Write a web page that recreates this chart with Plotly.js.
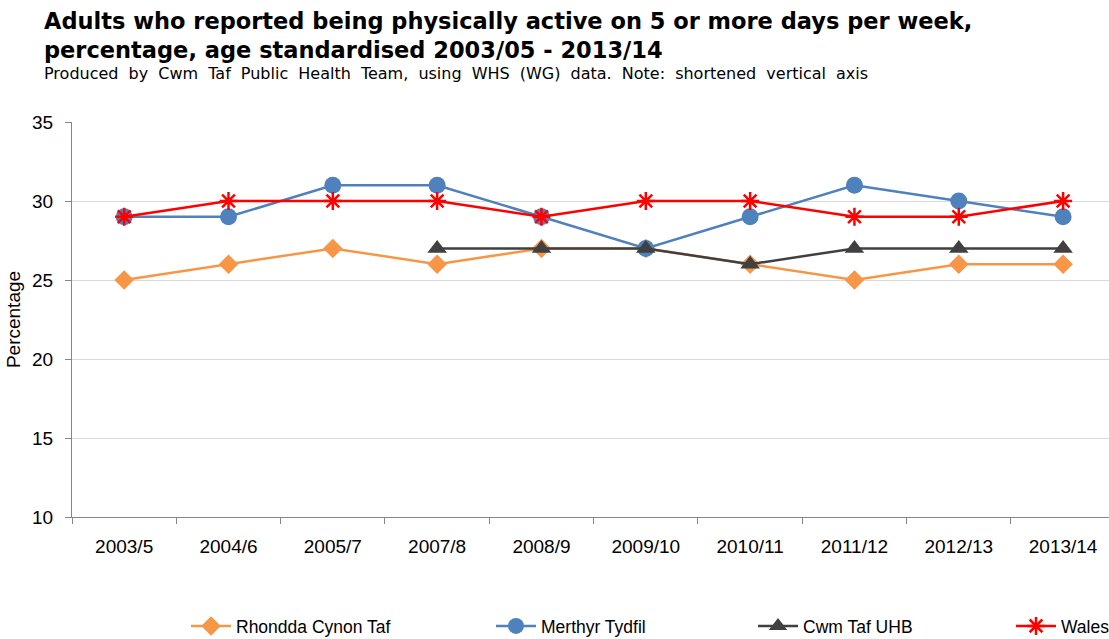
<!DOCTYPE html>
<html><head><meta charset="utf-8">
<script src="https://cdn.plot.ly/plotly-3.0.1.min.js"></script>
<style>html,body{margin:0;padding:0;background:#fff;}#chart{width:1109px;height:639px;}</style>
</head><body><div id="chart"></div>
<script>
const categories = ["2003/5","2004/6","2005/7","2007/8","2008/9","2009/10","2010/11","2011/12","2012/13","2013/14"];
const rct = [25,26,27,26,27,27,26,25,26,26];
const merthyr = [29,29,31,31,29,27,29,31,30,29];
const cwmTaf = [null,null,null,27,27,27,26,27,27,27];
const wales = [29,30,30,30,29,30,30,29,29,30];
const yTicks = [10,15,20,25,30,35];

const FONT = "Liberation Sans, Arial, sans-serif";
const traces = [
  {x:categories,y:rct,name:"Rhondda Cynon Taf",mode:"lines+markers",
   line:{color:"#F79646",width:2.5},marker:{symbol:"diamond",size:15,color:"#F79646"},legend:"legend"},
  {x:categories,y:merthyr,name:"Merthyr Tydfil",mode:"lines+markers",
   line:{color:"#4F81BD",width:2.5},marker:{symbol:"circle",size:17,color:"#4F81BD"},legend:"legend2"},
  {x:categories,y:cwmTaf,name:"Cwm Taf UHB",mode:"lines+markers",
   line:{color:"#404040",width:2.5},marker:{symbol:"triangle-up",size:17,color:"#404040"},legend:"legend3"},
  {x:categories,y:wales,name:"Wales",mode:"lines+markers",
   line:{color:"#FF0000",width:2.5},marker:{symbol:"asterisk-open",size:15,color:"#FF0000",line:{color:"#FF0000",width:2.5}},legend:"legend4"}
];

const W = 1109, H = 639, L = 72, R = 0, PW = W - L - R;
function lx(px){ return (px - L)/PW; }
function cx(px){ return px / W; }
const legBase = {orientation:"h",xref:"container",yref:"container",yanchor:"middle",y:1 - 626/H,xanchor:"left",
  font:{family:FONT,size:17.5,color:"#000"},bgcolor:"rgba(0,0,0,0)",itemwidth:40};

const layout = {
  width:W,height:H,
  margin:{l:L,r:R,t:122,b:122,autoexpand:false},
  paper_bgcolor:"#fff",plot_bgcolor:"#fff",
  showlegend:true,
  xaxis:{type:"category",range:[-0.5,9.44],showgrid:false,showline:true,linecolor:"#868686",linewidth:1,
    ticks:"outside",ticklen:6,tickcolor:"#868686",tickson:"boundaries",ticklabelstandoff:12,
    tickfont:{family:FONT,size:19,color:"#000"},zeroline:false,automargin:false},
  yaxis:{range:[10,35],tickvals:yTicks,showgrid:true,gridcolor:"#D9D9D9",gridwidth:1,showline:true,linecolor:"#868686",
    ticks:"outside",ticklen:6,tickcolor:"#868686",zeroline:false,ticklabelstandoff:8,automargin:false,
    tickfont:{family:FONT,size:19,color:"#000"},
    title:{text:"Percentage",font:{family:FONT,size:19,color:"#000"},standoff:6}},
  legend:Object.assign({},legBase,{x:cx(186)}),
  legend2:Object.assign({},legBase,{x:cx(491)}),
  legend3:Object.assign({},legBase,{x:cx(753)}),
  legend4:Object.assign({},legBase,{x:cx(1011)}),
  annotations:[
    {xref:"paper",yref:"paper",x:lx(42),y:1,xanchor:"left",yanchor:"bottom",yshift:57,align:"left",showarrow:false,
     text:"<b>Adults who reported being physically active on 5 or more days per week,<br>percentage, age standardised 2003/05 - 2013/14</b>",
     font:{family:"DejaVu Sans, Verdana, sans-serif",size:22.5,color:"#000"}},
    {xref:"paper",yref:"paper",x:lx(42),y:1,xanchor:"left",yanchor:"bottom",yshift:37,align:"left",showarrow:false,
     text:"Produced by Cwm Taf Public Health Team, using WHS (WG) data. Note: shortened vertical axis",
     font:{family:"DejaVu Sans, Verdana, sans-serif",size:16,color:"#000"}}
  ]
};
Plotly.newPlot("chart",traces,layout,{displayModeBar:false,staticPlot:true}).then(function(){
  const t = document.querySelectorAll('#chart .annotation-text');
  if (t[1]) t[1].style.wordSpacing = '5px';
});
</script></body></html>
